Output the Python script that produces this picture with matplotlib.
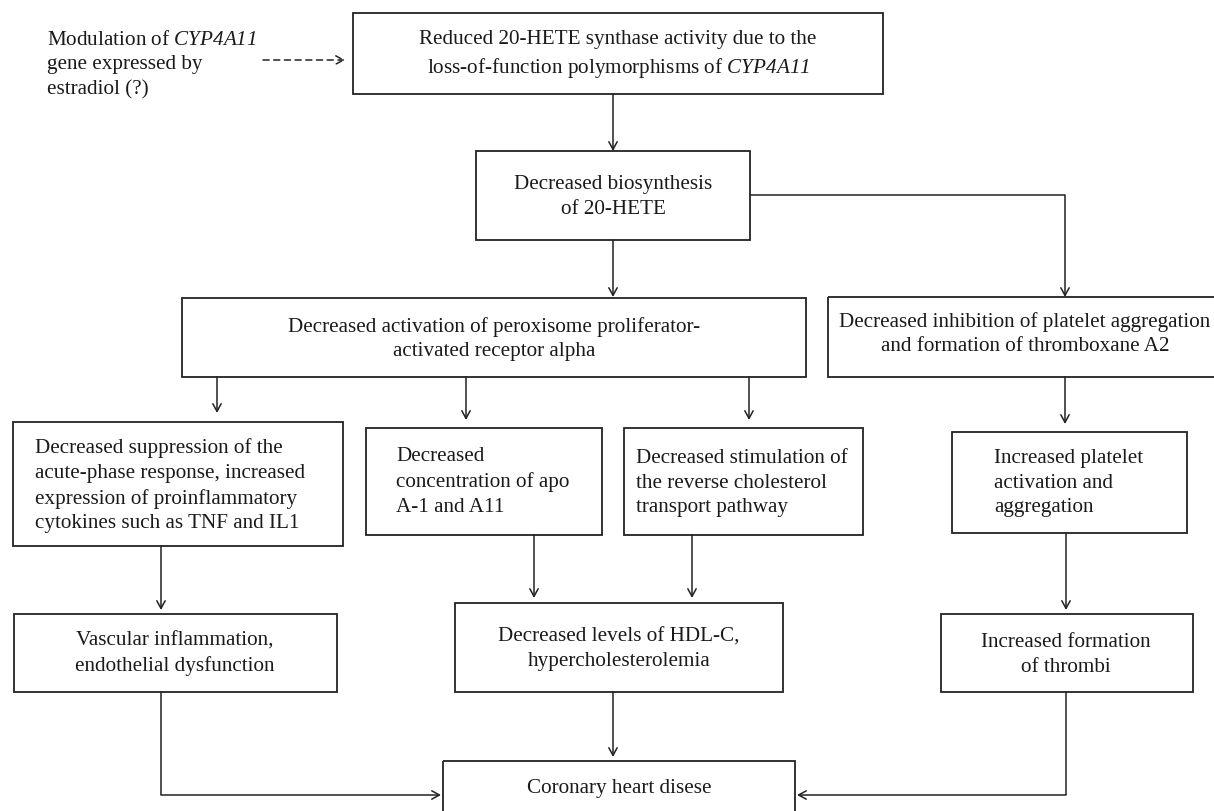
import matplotlib
matplotlib.use("Agg")
import matplotlib.pyplot as plt
from matplotlib.patches import Rectangle

plt.rcParams["font.family"] = ["Liberation Serif", "DejaVu Serif"]
# math text is only used for the italic gene name
plt.rcParams["mathtext.fontset"] = "custom"
plt.rcParams["mathtext.rm"] = "Liberation Serif:italic"
plt.rcParams["mathtext.it"] = "Liberation Serif:italic"

# texts of the flowchart
side_note = "Modulation of $\\mathrm{CYP4A11}$\ngene expressed by\nestradiol (?)"
box_labels = [
    "Reduced 20-HETE synthase activity due to the\nloss-of-function polymorphisms of $\\mathrm{CYP4A11}$",
    "Decreased biosynthesis\nof 20-HETE",
    "Decreased activation of peroxisome proliferator-\nactivated receptor alpha",
    "Decreased inhibition of platelet aggregation\nand formation of thromboxane A2",
    "Decreased suppression of the\nacute-phase response, increased\nexpression of proinflammatory\ncytokines such as TNF and IL1",
    "Decreased\nconcentration of apo\nA-1 and A11",
    "Decreased stimulation of\nthe reverse cholesterol\ntransport pathway",
    "Increased platelet\nactivation and\naggregation",
    "Vascular inflammation,\nendothelial dysfunction",
    "Decreased levels of HDL-C,\nhypercholesterolemia",
    "Increased formation\nof thrombi",
    "Coronary heart disese",
]

# layout in pixels: (left, top, right, bottom), text anchor x, text center y, alignment
boxes = [
    (353, 13, 883, 94, 618, 55, "center"),
    (476, 151, 750, 240, 613, 197, "center"),
    (182, 298, 806, 377, 494, 339, "center"),
    (828, 297, 1222, 377, 1025, 334, "center"),
    (13, 422, 343, 546, 35, 486, "left"),
    (366, 428, 602, 535, 396, 482, "left"),
    (624, 428, 863, 535, 636, 483, "left"),
    (952, 432, 1187, 533, 994, 483, "left"),
    (14, 614, 337, 692, 175, 654, "center"),
    (455, 603, 783, 692, 619, 649, "center"),
    (941, 614, 1193, 692, 1066, 655, "center"),
    (443, 761, 795, 840, 619, 789, "center"),
]

# connectors: polyline points, the last segment carries the arrowhead
links = [
    [(613, 94), (613, 151)],
    [(613, 240), (613, 297)],
    [(750, 195), (1065, 195), (1065, 297)],
    [(217, 377), (217, 413)],
    [(466, 377), (466, 420)],
    [(749, 377), (749, 420)],
    [(1065, 377), (1065, 424)],
    [(161, 546), (161, 610)],
    [(534, 535), (534, 598)],
    [(692, 535), (692, 598)],
    [(1066, 533), (1066, 610)],
    [(613, 692), (613, 757)],
    [(161, 692), (161, 795), (441, 795)],
    [(1066, 692), (1066, 795), (797, 795)],
]

W, H = 1214, 811
fig = plt.figure(figsize=(W / 100, H / 100), dpi=100)
ax = fig.add_axes([0, 0, 1, 1])
ax.set_xlim(0, W)
ax.set_ylim(H, 0)
ax.axis("off")

fs = 15.2
lsp = 1.4
lw = 1.3
ink = "#1a1a1a"

for label, (l, t, r, b, tx, ty, ha) in zip(box_labels, boxes):
    ax.add_patch(Rectangle((l, t), r - l, b - t, fill=False, ec="#222222", lw=lw))
    ax.text(tx, ty, label, ha=ha, va="center", fontsize=fs, color=ink,
            linespacing=lsp, multialignment=ha)

ax.text(47, 65, side_note, ha="left", va="center", fontsize=fs, color=ink,
        linespacing=lsp)

arrow_kw = dict(arrowstyle="->,head_length=0.55,head_width=0.3", color="#222222",
                lw=1.1, shrinkA=0, shrinkB=0)

for pts in links:
    if len(pts) > 2:
        xs, ys = zip(*pts[:-1])
        ax.plot(xs, ys, color="#222222", lw=1.1, solid_capstyle="butt")
    ax.annotate("", xy=pts[-1], xytext=pts[-2], arrowprops=arrow_kw)

# dashed arrow from the side note
ax.annotate("", xy=(345, 60), xytext=(263, 60),
            arrowprops=dict(arrowstyle="->,head_length=0.55,head_width=0.3",
                            color="#222222", lw=1.1, ls=(0, (4, 3)),
                            shrinkA=0, shrinkB=0))

fig.savefig("out.png", dpi=100)
